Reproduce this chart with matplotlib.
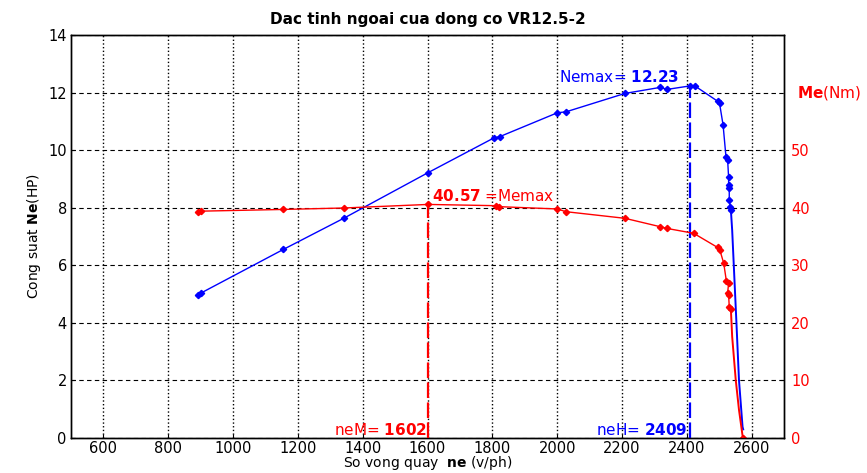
import matplotlib
matplotlib.use('Agg')
import matplotlib.pyplot as plt

plt.rcParams['font.family'] = ['DejaVu Sans']
plt.rcParams['mathtext.fontset'] = 'custom'
plt.rcParams['mathtext.rm'] = 'DejaVu Sans'
plt.rcParams['mathtext.bf'] = 'DejaVu Sans:bold'

# Cong suat Ne (HP) - measured points
ne_rpm = [893, 900, 1155, 1341, 1602, 1804, 1823, 2001, 2027, 2209, 2318, 2339,
          2409, 2425, 2495, 2501, 2512, 2521, 2526, 2529, 2529, 2531, 2531, 2534, 2536]
ne_hp = [4.98, 5.03, 6.55, 7.63, 9.22, 10.42, 10.47, 11.30, 11.33, 11.97, 12.18, 12.11,
         12.23, 12.23, 11.70, 11.63, 10.87, 9.75, 9.66, 9.05, 8.79, 8.67, 8.27, 8.03, 7.92]
# tail of the power curve (no markers)
ne_tail_rpm = [2536, 2540, 2553, 2561, 2572, 2574]
ne_tail_hp = [7.92, 7.22, 4.04, 2.01, 0.39, 0.3]

# Mo men Me (Nm)
me_rpm = [893, 900, 1155, 1341, 1602, 1812, 1822, 2001, 2027, 2209, 2318, 2339,
          2421, 2495, 2502, 2514, 2522, 2529, 2526, 2529, 2531, 2536]
me_nm = [39.26, 39.4, 39.7, 39.95, 40.57, 40.35, 40.18, 39.78, 39.31, 38.16, 36.7, 36.4,
         35.56, 33.1, 32.65, 30.34, 27.3, 26.9, 25.2, 24.8, 22.8, 22.35]
me_tail_rpm = [2536, 2540, 2551, 2561, 2573]
me_tail_nm = [22.35, 17.6, 10.1, 4.9, 0.0]

nemax, neH = 12.23, 2409
memax, neM = 40.57, 1602

x_ticks = [600, 800, 1000, 1200, 1400, 1600, 1800, 2000, 2200, 2400, 2600]
hp_ticks = [0, 2, 4, 6, 8, 10, 12, 14]
nm_ticks = [0, 10, 20, 30, 40, 50]

blue = '#0000ff'
red = '#ff0000'

fig = plt.figure(figsize=(8.67, 4.73), dpi=100)
ax = fig.add_axes([0.0819, 0.074, 0.8224, 0.852])
ax2 = ax.twinx()

# power curve (left axis)
ax.plot(ne_rpm, ne_hp, color=blue, lw=1.0, marker='D', ms=3.2, zorder=3)
ax.plot(ne_tail_rpm, ne_tail_hp, color=blue, lw=1.4, zorder=3)
ax.plot([neH, neH], [0, nemax], color=blue, lw=1.6, dashes=(7, 2), zorder=3)

# torque curve (right axis)
ax2.plot(me_rpm, me_nm, color=red, lw=1.0, marker='D', ms=3.2, zorder=3)
ax2.plot(me_tail_rpm, me_tail_nm, color=red, lw=1.4, zorder=3)
ax2.plot(me_tail_rpm[-1], me_tail_nm[-1], color=red, marker='D', ms=3.2)
ax2.plot([neM, neM], [0, memax], color=red, lw=1.6, dashes=(7, 2), zorder=3)

ax.set_xlim(500, 2700)
ax.set_ylim(0, 14)
ax2.set_ylim(0, 70)
ax.set_xticks(x_ticks)
ax.set_yticks(hp_ticks)
ax2.set_yticks(nm_ticks)

ax.grid(True, axis='x', color='black', linestyle=':', lw=1.0)
ax.grid(True, axis='y', color='black', linestyle='--', lw=0.8, dashes=(4, 3))

ax.tick_params(axis='x', direction='in', length=3, labelsize=10.5, pad=2)
ax.tick_params(axis='y', direction='in', length=3, labelsize=10.5, pad=3)
ax2.tick_params(direction='in', length=3, labelsize=10.5, labelcolor=red, pad=5)

for a in (ax, ax2):
    for s in a.spines.values():
        s.set_linewidth(1.0)

ax.set_title('Dac tinh ngoai cua dong co VR12.5-2', fontsize=11, fontweight='bold', pad=8)
ax.set_xlabel(r'So vong quay  $\mathbf{ne}$ (v/ph)', fontsize=10, labelpad=-1)
ax.set_ylabel(r'Cong suat $\mathbf{Ne}$(HP)', fontsize=10, labelpad=4)

ax2.annotate(r'$\mathbf{Me}$(Nm)', xy=(1, 60), xycoords=('axes fraction', 'data'),
             xytext=(9, 0), textcoords='offset points', va='center', ha='left',
             color=red, fontsize=11)

ax.text(2005, 12.55, r'Nemax= $\mathbf{12.23}$', color=blue, fontsize=11, va='center', ha='left')
ax.text(1613, 8.42, r'$\mathbf{40.57}$ =Memax', color=red, fontsize=11, va='center', ha='left')
ax.text(1597, 0.28, r'neM= $\mathbf{1602}$', color=red, fontsize=11, va='center', ha='right')
ax.text(2404, 0.28, r'neH= $\mathbf{2409}$', color=blue, fontsize=11, va='center', ha='right')

fig.savefig('out.png', dpi=100)
